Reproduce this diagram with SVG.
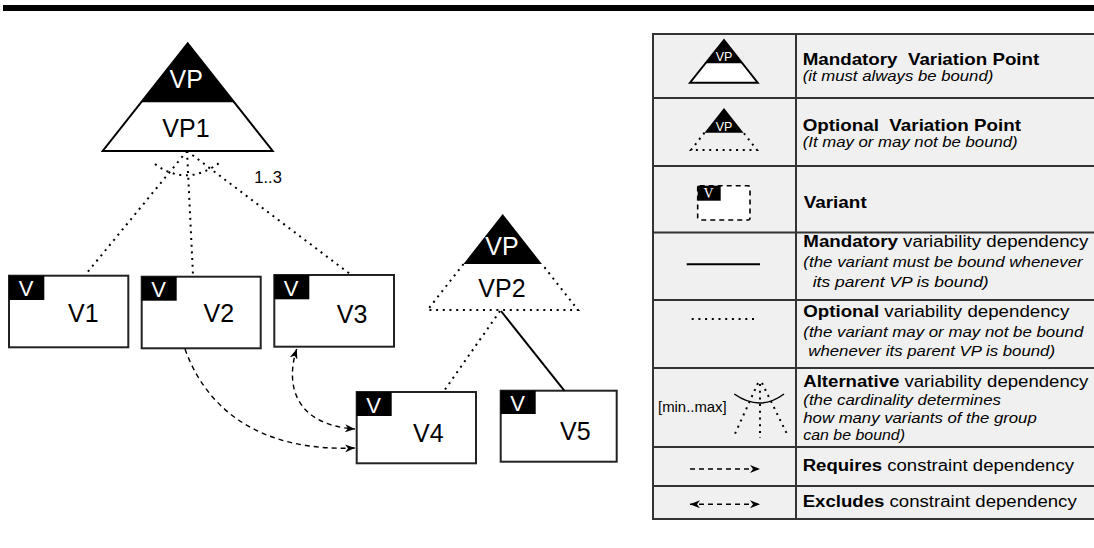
<svg xmlns="http://www.w3.org/2000/svg" width="1094" height="548" viewBox="0 0 1094 548">
<style>
  .t { font-family: "Liberation Sans", Arial, sans-serif; fill: #000; }
  .big { font-size: 25px; text-anchor: middle; }
  .wl { fill: #fff; }
  .box { fill: #fff; stroke: #222; stroke-width: 2; }
  .dot { fill: none; stroke: #000; stroke-width: 2; stroke-dasharray: 2 4.7; }
  .dash { fill: none; stroke: #000; stroke-width: 1.4; stroke-dasharray: 5 4; }
  .solid { fill: none; stroke: #000; stroke-width: 2; }
  .grid { stroke: #333; stroke-width: 2; fill: none; }
  .lt { font-size: 15.8px; }
  .b { font-weight: bold; }
  .i { font-style: italic; font-size: 15px; }
</style>
<defs>
  <marker id="arr" markerUnits="userSpaceOnUse" markerWidth="11" markerHeight="8" refX="10" refY="4" orient="auto-start-reverse" viewBox="0 0 11 8">
    <path d="M0,0 L10,4 L0,8 L3,4 z" fill="#000"/>
  </marker>
</defs>

<rect id="top-bar" x="3" y="5" width="1091" height="6" fill="#000"/>

<g id="VP1">
  <polygon points="187.7,43.3 102.7,151 272.7,151" fill="#fff" stroke="#000" stroke-width="2"/>
  <polygon points="187.7,43.3 141.5,102.3 234,102.3" fill="#000"/>
  <text class="t big wl" x="186.3" y="88.3">VP</text>
  <text class="t big" x="186" y="136.7">VP1</text>
</g>

<g id="VP2">
  <polygon points="502.7,214 463.5,264 541.9,264" fill="#000"/>
  <polyline class="dot" points="463.5,264 427.5,310 578,310 541.9,264"/>
  <text class="t big wl" x="502" y="255">VP</text>
  <text class="t big" x="502" y="297.3">VP2</text>
</g>

<g id="V1">
  <rect class="box" x="9" y="275.7" width="119.3" height="71.6"/>
  <rect x="9" y="275.7" width="35.3" height="24.3" fill="#000"/>
  <text class="t wl" x="26" y="296" font-size="22" text-anchor="middle">V</text>
  <text class="t big" x="83.3" y="321.7">V1</text>
</g>
<g id="V2">
  <rect class="box" x="141.7" y="276.7" width="119" height="71.6"/>
  <rect x="141.7" y="276.7" width="35" height="24" fill="#000"/>
  <text class="t wl" x="158.5" y="297" font-size="22" text-anchor="middle">V</text>
  <text class="t big" x="218.8" y="322">V2</text>
</g>
<g id="V3">
  <rect class="box" x="274.3" y="275" width="119.7" height="71.7"/>
  <rect x="274.3" y="275" width="35" height="24.3" fill="#000"/>
  <text class="t wl" x="291" y="295.5" font-size="22" text-anchor="middle">V</text>
  <text class="t big" x="352" y="323">V3</text>
</g>
<g id="V4">
  <rect class="box" x="356.7" y="392" width="119.3" height="71.3"/>
  <rect x="356.7" y="392" width="35" height="24" fill="#000"/>
  <text class="t wl" x="373.5" y="412.5" font-size="22" text-anchor="middle">V</text>
  <text class="t big" x="428.3" y="441.7">V4</text>
</g>
<g id="V5">
  <rect class="box" x="500.7" y="390.7" width="116" height="71"/>
  <rect x="500.7" y="390.7" width="35" height="23.3" fill="#000"/>
  <text class="t wl" x="517.5" y="411" font-size="22" text-anchor="middle">V</text>
  <text class="t big" x="575.3" y="440">V5</text>
</g>

<g id="connectors">
  <line class="dot" x1="187" y1="151" x2="86" y2="274"/>
  <line class="dot" x1="187" y1="151" x2="193" y2="275"/>
  <line class="dot" x1="187" y1="151" x2="350" y2="274"/>
  <path class="dot" d="M155,164 Q187,188 222,161"/>
  <text class="t" x="254.3" y="182.7" font-size="16.5">1..3</text>
  <line class="dot" x1="500" y1="311" x2="444" y2="391"/>
  <line class="solid" x1="501" y1="311" x2="564.3" y2="390.7"/>
  <path class="dash" d="M185,349 C205,405 255,452 355,448" marker-end="url(#arr)"/>
  <path class="dash" d="M296.7,349 C285,385 295,425 355,429" marker-start="url(#arr)" marker-end="url(#arr)"/>
</g>

<g id="legend">
  <rect x="653" y="34" width="442" height="485" fill="#f0f0f0"/>
  <g class="grid">
    <rect x="653" y="34" width="442" height="485"/>
    <line x1="796" y1="34" x2="796" y2="519"/>
    <line x1="653" y1="98" x2="1095" y2="98"/>
    <line x1="653" y1="166" x2="1095" y2="166"/>
    <line x1="653" y1="232.5" x2="1095" y2="232.5"/>
    <line x1="653" y1="300" x2="1095" y2="300"/>
    <line x1="653" y1="368" x2="1095" y2="368"/>
    <line x1="653" y1="447" x2="1095" y2="447"/>
    <line x1="653" y1="486" x2="1095" y2="486"/>
  </g>

  <g id="legend-mandatory-vp">
    <polygon points="724,40 690,82.7 757.7,82.7" fill="#fff" stroke="#000" stroke-width="2"/>
    <polygon points="724,40 705.6,63.3 742.4,63.3" fill="#000"/>
    <text class="t wl" x="724" y="61" font-size="12.5" text-anchor="middle">VP</text>
    <text class="t b" x="802.7" y="65" font-size="16.5" textLength="236.6" lengthAdjust="spacingAndGlyphs" xml:space="preserve">Mandatory  Variation Point</text>
    <text class="t i" x="802.7" y="80.7" textLength="190.6" lengthAdjust="spacingAndGlyphs">(it must always be bound)</text>
  </g>

  <g id="legend-optional-vp">
    <polygon points="724,108 704.5,132.7 743.5,132.7" fill="#000"/>
    <polyline class="dot" stroke-width="1.6" stroke-dasharray="1.6 4.5" points="704.5,132.7 691,150 757,150 743.5,132.7"/>
    <text class="t wl" x="724" y="130.5" font-size="12.5" text-anchor="middle">VP</text>
    <text class="t b" x="802.7" y="130.7" font-size="16.5" textLength="218.3" lengthAdjust="spacingAndGlyphs" xml:space="preserve">Optional  Variation Point</text>
    <text class="t i" x="802.7" y="146.7" textLength="215" lengthAdjust="spacingAndGlyphs">(It may or may not be bound)</text>
  </g>

  <g id="legend-variant">
    <rect x="697.7" y="185.7" width="52.3" height="34.3" rx="2" fill="#fff" stroke="#000" stroke-width="1.6" stroke-dasharray="5 4"/>
    <rect x="697.7" y="185.7" width="23" height="15" fill="#000"/>
    <text x="708.5" y="198.3" font-family="'Liberation Serif', 'Times New Roman', serif" font-size="14" fill="#fff" text-anchor="middle">V</text>
    <text class="t b" x="803.7" y="208.3" font-size="16.5" textLength="63" lengthAdjust="spacingAndGlyphs">Variant</text>
  </g>

  <g id="legend-mandatory-dep">
    <line x1="686.7" y1="264.3" x2="760" y2="264.3" stroke="#000" stroke-width="2"/>
    <text class="t lt" x="803.3" y="246.7" textLength="285" lengthAdjust="spacingAndGlyphs"><tspan class="b">Mandatory</tspan> variability dependency</text>
    <text class="t i" x="803.3" y="266.7" textLength="279.4" lengthAdjust="spacingAndGlyphs">(the variant must be bound whenever</text>
    <text class="t i" x="812.7" y="286.7" textLength="176" lengthAdjust="spacingAndGlyphs">its parent VP is bound)</text>
  </g>

  <g id="legend-optional-dep">
    <line class="dot" x1="691.7" y1="319" x2="755" y2="319" stroke-width="1.4" stroke-dasharray="1.4 4.3"/>
    <text class="t lt" x="803.3" y="316.7" textLength="266" lengthAdjust="spacingAndGlyphs"><tspan class="b">Optional</tspan> variability dependency</text>
    <text class="t i" x="803.3" y="336.7" textLength="280" lengthAdjust="spacingAndGlyphs">(the variant may or may not be bound</text>
    <text class="t i" x="808.3" y="356" textLength="246.7" lengthAdjust="spacingAndGlyphs">whenever its parent VP is bound)</text>
  </g>

  <g id="legend-alternative-dep">
    <text class="t" x="658" y="411.5" font-size="14.5" textLength="68.7" lengthAdjust="spacingAndGlyphs">[min..max]</text>
    <path d="M734.3,394 Q760,412 784,394" fill="none" stroke="#000" stroke-width="1.5"/>
    <line class="dot" x1="758" y1="383" x2="734" y2="436" stroke-width="1.4" stroke-dasharray="1.4 6"/>
    <line class="dot" x1="760" y1="384" x2="760" y2="438" stroke-width="1.4" stroke-dasharray="1.4 6"/>
    <line class="dot" x1="762" y1="383" x2="787" y2="434" stroke-width="1.4" stroke-dasharray="1.4 6"/>
    <text class="t lt" x="803.3" y="386.7" textLength="285" lengthAdjust="spacingAndGlyphs"><tspan class="b">Alternative</tspan> variability dependency</text>
    <text class="t i" x="803.3" y="404.5" textLength="197.7" lengthAdjust="spacingAndGlyphs">(the cardinality determines</text>
    <text class="t i" x="803.3" y="422.5" textLength="233.4" lengthAdjust="spacingAndGlyphs">how many variants of the group</text>
    <text class="t i" x="803.3" y="440" textLength="101.7" lengthAdjust="spacingAndGlyphs">can be bound)</text>
  </g>

  <g id="legend-requires">
    <line class="dash" x1="690" y1="469" x2="760" y2="469" stroke-width="1.2" stroke-dasharray="4 4" marker-end="url(#arr)"/>
    <text class="t lt" x="802.7" y="471" textLength="271.3" lengthAdjust="spacingAndGlyphs"><tspan class="b">Requires</tspan> constraint dependency</text>
  </g>

  <g id="legend-excludes">
    <line class="dash" x1="690" y1="504.3" x2="760" y2="504.3" stroke-width="1.2" stroke-dasharray="4 4" marker-start="url(#arr)" marker-end="url(#arr)"/>
    <text class="t lt" x="802.7" y="506.7" textLength="274" lengthAdjust="spacingAndGlyphs"><tspan class="b">Excludes</tspan> constraint dependency</text>
  </g>
</g>
</svg>
